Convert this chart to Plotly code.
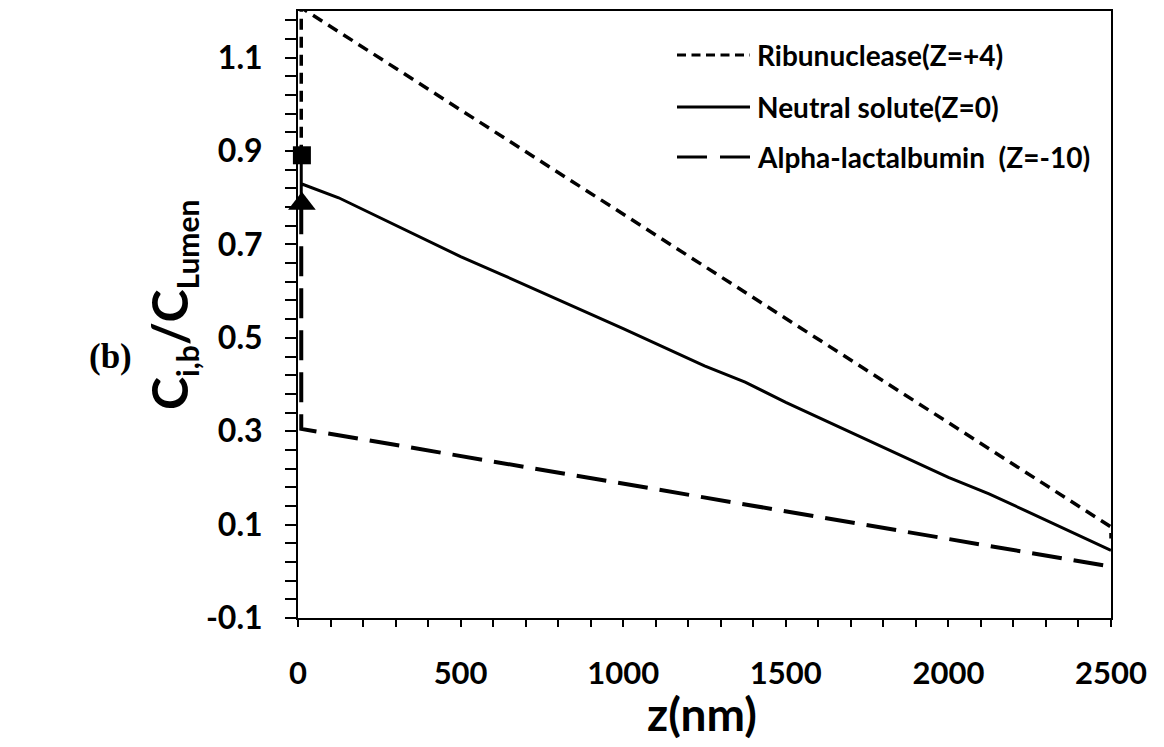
import plotly.graph_objects as go

# ---- data ----
ribo_z = [10, 10, 2500, 2500]
ribo_c = [0.89, 1.207, 0.095, 0.07]

neutral_z = [10, 10, 10, 125, 500, 625, 1000, 1250, 1375, 1500, 2000, 2125, 2500]
neutral_c = [0.89, 0.79, 0.83, 0.80, 0.674, 0.636, 0.52, 0.44, 0.405, 0.362, 0.201, 0.166, 0.045]

alpha_z = [10, 10, 2500]
alpha_c = [0.786, 0.305, 0.01]

square_z = [12]
square_c = [0.891]
triangle_z = [12]
triangle_c = [0.787]

legend_names = ["Ribunuclease(Z=+4)", "Neutral solute(Z=0)", "Alpha-lactalbumin  (Z=-10)"]
legend_dash = ["9px,5.5px", "solid", "30px,13px"]

x_ticks = [0, 500, 1000, 1500, 2000, 2500]
y_ticks = [-0.1, 0.1, 0.3, 0.5, 0.7, 0.9, 1.1]
y_ticktext = ["-0.1", "0.1", "0.3", "0.5", "0.7", "0.9", "1.1"]

FONT = "Lato, 'Open Sans', sans-serif"

fig = go.Figure()
fig.add_trace(go.Scatter(x=ribo_z, y=ribo_c, mode="lines",
                         line=dict(color="black", width=3.5, dash="11px,7px"),
                         showlegend=False))
fig.add_trace(go.Scatter(x=neutral_z, y=neutral_c, mode="lines",
                         line=dict(color="black", width=3),
                         showlegend=False))
fig.add_trace(go.Scatter(x=alpha_z, y=alpha_c, mode="lines",
                         line=dict(color="black", width=4, dash="30px,12px"),
                         showlegend=False))
fig.add_trace(go.Scatter(x=square_z, y=square_c, mode="markers",
                         marker=dict(symbol="square", size=18, color="black"),
                         showlegend=False, cliponaxis=False))
fig.add_trace(go.Scatter(x=triangle_z, y=triangle_c, mode="markers",
                         marker=dict(symbol="triangle-up", size=24, color="black"),
                         showlegend=False, cliponaxis=False))

# manual legend (layout decoration)
L, R, T, B = 298, 53, 11, 129
W, H = 1164, 747
pw, ph = W - L - R, H - T - B
def px2x(px):
    return (px - L) / pw
def py2y(py):
    return (H - B - py) / ph

rows_py = [55, 107, 157]
shapes = []
annotations = []
for name, dash, py in zip(legend_names, legend_dash, rows_py):
    shapes.append(dict(type="line", xref="paper", yref="paper",
                       x0=px2x(677), x1=px2x(750), y0=py2y(py), y1=py2y(py),
                       line=dict(color="black", width=3, dash=dash)))
    annotations.append(dict(text=name, xref="paper", yref="paper",
                            x=px2x(755), y=py2y(py), xanchor="left", yanchor="middle",
                            showarrow=False,
                            font=dict(family=FONT, size=28, color="black", weight="bold")))

annotations.append(dict(text="C<sub><span style='font-size:30px'>i,b</span></sub>/C"
                             "<sub><span style='font-size:30px'>Lumen</span></sub>",
                        xref="paper", yref="paper",
                        x=px2x(172), y=py2y(305), xanchor="center", yanchor="middle",
                        textangle=-90, showarrow=False,
                        font=dict(family=FONT, size=50, color="black", weight="bold")))
annotations.append(dict(text="z(nm)", xref="paper", yref="paper",
                        x=px2x(702), y=py2y(713), xanchor="center", yanchor="middle",
                        showarrow=False,
                        font=dict(family=FONT, size=46, color="black", weight="bold")))
annotations.append(dict(text="(b)", xref="paper", yref="paper",
                        x=px2x(110), y=py2y(356), xanchor="center", yanchor="middle",
                        showarrow=False,
                        font=dict(family="'Liberation Serif', 'Times New Roman', serif",
                                  size=35, color="black", weight="bold")))

fig.update_layout(
    width=W, height=H,
    margin=dict(l=L, r=R, t=T, b=B, autoexpand=False),
    paper_bgcolor="white", plot_bgcolor="white",
    shapes=shapes, annotations=annotations,
    showlegend=False,
)
fig.update_xaxes(range=[0, 2500], tickmode="array", tickvals=x_ticks,
                 showgrid=False, zeroline=False,
                 showline=True, linecolor="black", linewidth=2, mirror=True,
                 ticks="outside", ticklen=7, tickwidth=2, tickcolor="black",
                 ticklabelstandoff=20,
                 minor=dict(tickmode="linear", tick0=0, dtick=100, ticks="outside",
                            ticklen=7, tickwidth=2, tickcolor="black", showgrid=False),
                 tickfont=dict(family=FONT, size=31, color="black", weight="bold"))
fig.update_yaxes(range=[-0.1, 1.2], tickmode="array", tickvals=y_ticks, ticktext=y_ticktext,
                 showgrid=False, zeroline=False,
                 showline=True, linecolor="black", linewidth=2, mirror=True,
                 ticks="outside", ticklen=11, tickwidth=2, tickcolor="black",
                 ticklabelstandoff=16,
                 minor=dict(tickmode="linear", tick0=-0.1, dtick=0.04, ticks="outside",
                            ticklen=11, tickwidth=2, tickcolor="black", showgrid=False),
                 tickfont=dict(family=FONT, size=32, color="black", weight="bold"))

fig.write_html("out.html", config={"displayModeBar": False},
               post_script="document.body.style.margin='0px';")
